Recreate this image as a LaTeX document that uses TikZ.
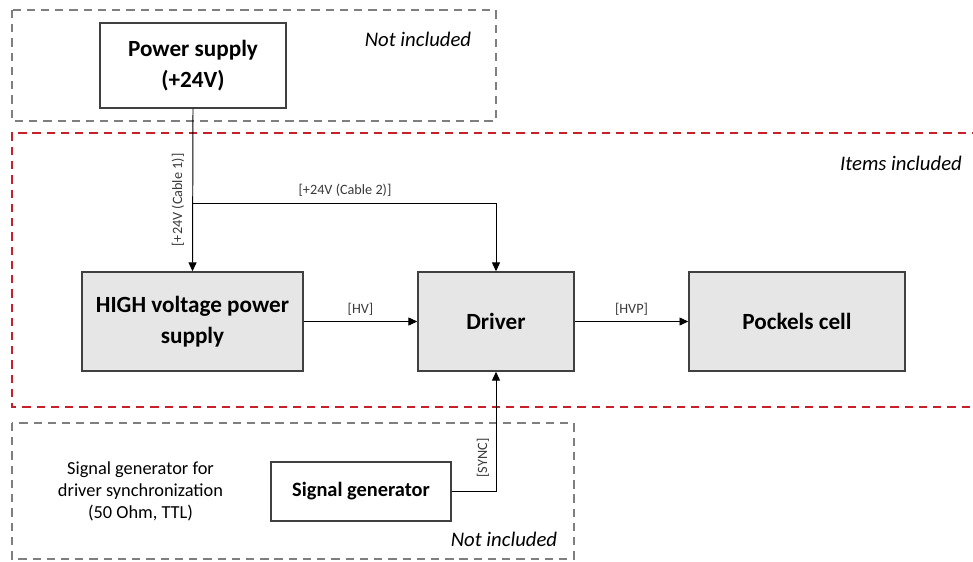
\documentclass[tikz,border=0pt]{standalone}
\usepackage{fontspec}
\setmainfont{Carlito}
\usetikzlibrary{arrows.meta}
\definecolor{boxgray}{HTML}{E6E6E6}
\definecolor{edgegray}{HTML}{404040}
\definecolor{dashgray}{HTML}{7F7F7F}
\definecolor{dashred}{HTML}{C8202A}
\definecolor{labelgray}{HTML}{3A3A3A}
\tikzset{
  blk/.style={draw=edgegray, line width=0.85pt, fill=boxgray, align=center, font=\fontsize{13.2}{17.5}\selectfont\bfseries, inner sep=0pt},
  wblk/.style={blk, fill=white},
  conn/.style={draw=black, line width=0.55pt},
  arr/.style={conn, -{Triangle[length=5pt,width=4.5pt]}},
  lbl/.style={font=\fontsize{8.1}{9}\selectfont, text=labelgray, inner sep=1pt},
  grayzone/.style={draw=dashgray, line width=1.1pt, dash pattern=on 4.7pt off 3.4pt},
  redzone/.style={draw=dashred, line width=1.1pt, dash pattern=on 4.7pt off 3.4pt},
  note/.style={font=\fontsize{11.8}{14}\selectfont\itshape, inner sep=0pt},
  plain/.style={font=\fontsize{10.45}{12.5}\selectfont, align=center, inner sep=0pt},
}
\begin{document}
\begin{tikzpicture}[x=0.02cm, y=-0.02cm]
\useasboundingbox[fill=white] (0,0) rectangle (973,561);
% zones
\draw[grayzone] (12,10) rectangle (496,121);
\draw[redzone] (980,133) -- (12,133) -- (12,407) -- (980,407);
\draw[grayzone] (12,423) rectangle (574,559);
% zone notes
\node[note] (n1) at (418,39) {Not included};
\node[note] (n2) at (901,163) {Items included};
\node[note] (n3) at (504,539) {Not included};
% blocks
\node[wblk, minimum width=3.72cm, minimum height=1.70cm] (ps) at (193,65.5) {Power supply\\(+24V)};
\node[blk, minimum width=4.42cm, minimum height=1.98cm] (hv) at (192.5,321.5) {HIGH voltage power\\supply};
\node[blk, minimum width=3.12cm, minimum height=1.98cm] (drv) at (496,321.5) {Driver};
\node[blk, minimum width=4.32cm, minimum height=1.98cm] (pc) at (797,321.5) {Pockels cell};
\node[wblk, minimum width=3.6cm, minimum height=1.18cm, font=\fontsize{11.6}{13}\selectfont\bfseries] (sg) at (361,491.5) {Signal generator};
\node[plain] (desc) at (140.5,491) {Signal generator for\\driver synchronization\\(50 Ohm, TTL)};
% connectors
\coordinate (br) at (ps.south |- 0,203);
\draw[arr] (ps.south) -- (hv.north);
\draw[arr] (br) -| (drv.north);
\draw[arr] (hv.east) -- node[lbl, above=2pt] {[HV]} (drv.west);
\draw[arr] (drv.east) -- node[lbl, above=2pt] {[HVP]} (pc.west);
\draw[arr] (sg.east) -| (drv.south);
% labels
\node[lbl, rotate=90] (l1) at (178,200) {[+24V (Cable 1)]};
\node[lbl] (l2) at (345,190) {[+24V (Cable 2)]};
\node[lbl, rotate=90] (l3) at (483,458) {[SYNC]};
\end{tikzpicture}
\end{document}
